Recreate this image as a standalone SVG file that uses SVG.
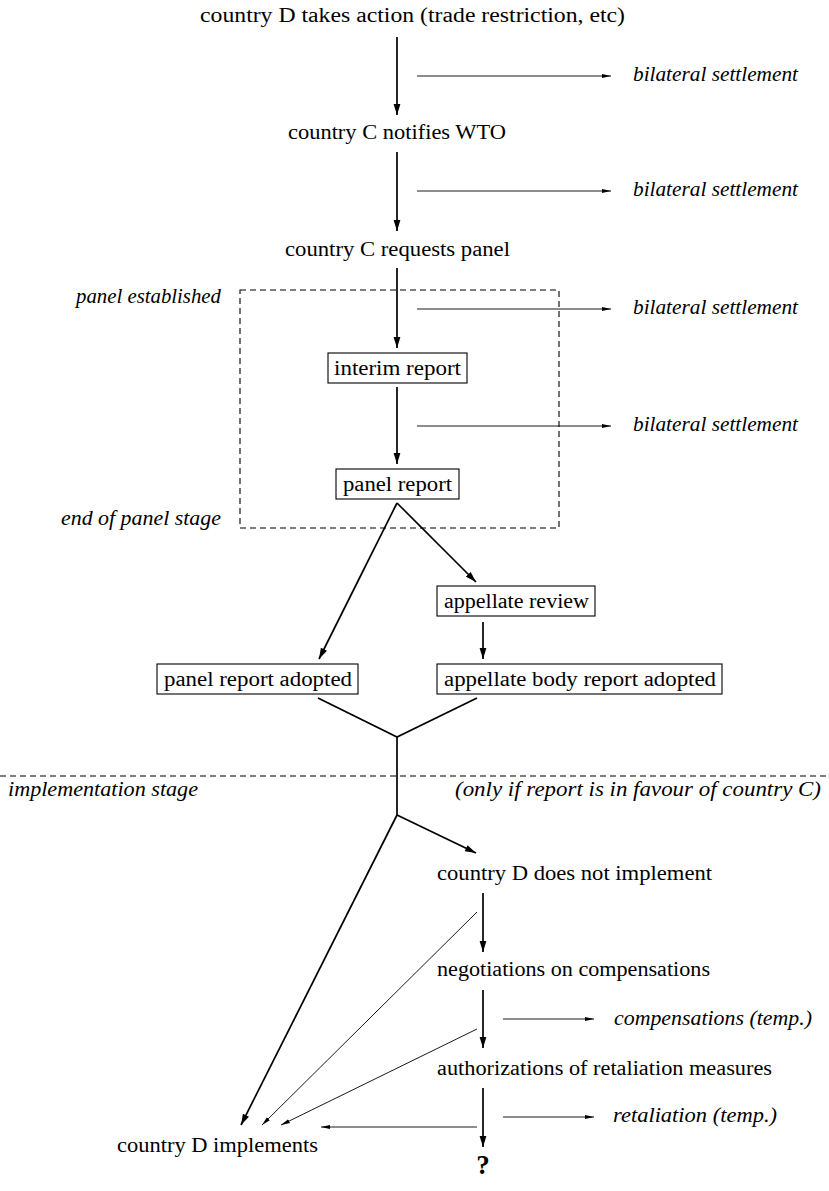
<svg xmlns="http://www.w3.org/2000/svg" width="829" height="1191" viewBox="0 0 829 1191">
<style>
text{font-family:"Liberation Serif","Times New Roman",serif;fill:#000}
.t{font-size:20.5px}
.i{font-size:20.5px;font-style:italic}
.b{font-size:27px;font-weight:bold}
.m{stroke:#000;stroke-width:1.7;fill:none}
.s{stroke:#000;stroke-width:0.9;fill:none}
.box{stroke:#000;stroke-width:1.1;fill:#fff}
.dash{stroke:#000;stroke-width:1.1;fill:none;stroke-dasharray:6 4}
</style>
<defs>
<marker id="am" markerUnits="userSpaceOnUse" markerWidth="12" markerHeight="8" refX="11" refY="4" orient="auto"><path d="M0,0.6 L11,4 L0,7.4 Z" fill="#000"/></marker>
<marker id="as" markerUnits="userSpaceOnUse" markerWidth="10" markerHeight="6" refX="9" refY="3" orient="auto"><path d="M0,0.9 L9,3 L0,5.1 Z" fill="#000"/></marker>
</defs>
<rect width="829" height="1191" fill="#fff"/>
<g id="frame">
<rect class="dash" x="240" y="290" width="319" height="238"/>
<line class="dash" x1="0" y1="776" x2="829" y2="776"/>
</g>
<g id="connectors">
<line class="m" x1="397" y1="37" x2="397" y2="115" marker-end="url(#am)"/>
<line class="s" x1="417" y1="76" x2="611" y2="76" marker-end="url(#as)"/>
<line class="m" x1="397" y1="152" x2="397" y2="231" marker-end="url(#am)"/>
<line class="s" x1="417" y1="191" x2="611" y2="191" marker-end="url(#as)"/>
<line class="m" x1="397" y1="268" x2="397" y2="348" marker-end="url(#am)"/>
<line class="s" x1="417" y1="309" x2="611" y2="309" marker-end="url(#as)"/>
<line class="m" x1="397" y1="387" x2="397" y2="464" marker-end="url(#am)"/>
<line class="s" x1="417" y1="426" x2="611" y2="426" marker-end="url(#as)"/>
<line class="m" x1="397" y1="503" x2="319" y2="659" marker-end="url(#am)"/>
<line class="m" x1="397" y1="503" x2="476" y2="582" marker-end="url(#am)"/>
<line class="m" x1="483" y1="622" x2="483" y2="659" marker-end="url(#am)"/>
<polyline class="m" points="318,698 397,737 477,698"/>
<line class="m" x1="397" y1="737" x2="397" y2="815"/>
<line class="m" x1="397" y1="815" x2="476" y2="853" marker-end="url(#am)"/>
<line class="m" x1="397" y1="815" x2="241" y2="1125" marker-end="url(#am)"/>
<line class="m" x1="483" y1="893" x2="483" y2="952" marker-end="url(#am)"/>
<line class="s" x1="477" y1="912" x2="262" y2="1125" marker-end="url(#as)"/>
<line class="m" x1="483" y1="990" x2="483" y2="1048" marker-end="url(#am)"/>
<line class="s" x1="503" y1="1019" x2="594" y2="1019" marker-end="url(#as)"/>
<line class="s" x1="477" y1="1029" x2="281" y2="1125" marker-end="url(#as)"/>
<line class="m" x1="483" y1="1088" x2="483" y2="1147" marker-end="url(#am)"/>
<line class="s" x1="503" y1="1117" x2="594" y2="1117" marker-end="url(#as)"/>
<line class="s" x1="477" y1="1127" x2="321" y2="1127" marker-end="url(#as)"/>
</g>
<g id="n1"><text class="t" x="200" y="22" textLength="425" lengthAdjust="spacingAndGlyphs">country D takes action (trade restriction, etc)</text></g>
<g id="b1"><text class="i" x="633" y="81" textLength="165" lengthAdjust="spacingAndGlyphs">bilateral settlement</text></g>
<g id="n2"><text class="t" x="288" y="139" textLength="218" lengthAdjust="spacingAndGlyphs">country C notifies WTO</text></g>
<g id="b2"><text class="i" x="633" y="196" textLength="165" lengthAdjust="spacingAndGlyphs">bilateral settlement</text></g>
<g id="n3"><text class="t" x="285" y="256" textLength="225" lengthAdjust="spacingAndGlyphs">country C requests panel</text></g>
<g id="l1"><text class="i" x="76" y="303" textLength="145" lengthAdjust="spacingAndGlyphs">panel established</text></g>
<g id="b3"><text class="i" x="633" y="314" textLength="165" lengthAdjust="spacingAndGlyphs">bilateral settlement</text></g>
<g id="n4"><rect class="box" x="328" y="353" width="139" height="30"/><text class="t" x="334" y="375" textLength="127" lengthAdjust="spacingAndGlyphs">interim report</text></g>
<g id="b4"><text class="i" x="633" y="431" textLength="165" lengthAdjust="spacingAndGlyphs">bilateral settlement</text></g>
<g id="n5"><rect class="box" x="336" y="469" width="123" height="30"/><text class="t" x="343" y="491" textLength="109" lengthAdjust="spacingAndGlyphs">panel report</text></g>
<g id="l2"><text class="i" x="61" y="525" textLength="160" lengthAdjust="spacingAndGlyphs">end of panel stage</text></g>
<g id="n6"><rect class="box" x="437" y="586" width="158" height="30"/><text class="t" x="444" y="608" textLength="145" lengthAdjust="spacingAndGlyphs">appellate review</text></g>
<g id="n7"><rect class="box" x="157" y="664" width="201" height="30"/><text class="t" x="164" y="686" textLength="188" lengthAdjust="spacingAndGlyphs">panel report adopted</text></g>
<g id="n8"><rect class="box" x="437" y="664" width="285" height="30"/><text class="t" x="444" y="686" textLength="272" lengthAdjust="spacingAndGlyphs">appellate body report adopted</text></g>
<g id="l3"><text class="i" x="8" y="796" textLength="190" lengthAdjust="spacingAndGlyphs">implementation stage</text></g>
<g id="l4"><text class="i" x="455" y="796" textLength="366" lengthAdjust="spacingAndGlyphs">(only if report is in favour of country C)</text></g>
<g id="n9"><text class="t" x="437" y="880" textLength="275" lengthAdjust="spacingAndGlyphs">country D does not implement</text></g>
<g id="n10"><text class="t" x="437" y="976" textLength="273" lengthAdjust="spacingAndGlyphs">negotiations on compensations</text></g>
<g id="r1"><text class="i" x="614" y="1025" textLength="198" lengthAdjust="spacingAndGlyphs">compensations (temp.)</text></g>
<g id="n11"><text class="t" x="437" y="1075" textLength="335" lengthAdjust="spacingAndGlyphs">authorizations of retaliation measures</text></g>
<g id="r2"><text class="i" x="613" y="1122" textLength="164" lengthAdjust="spacingAndGlyphs">retaliation (temp.)</text></g>
<g id="n12"><text class="t" x="117" y="1152" textLength="201" lengthAdjust="spacingAndGlyphs">country D implements</text></g>
<g id="n13"><text class="b" x="483" y="1174" text-anchor="middle">?</text></g>
</svg>
